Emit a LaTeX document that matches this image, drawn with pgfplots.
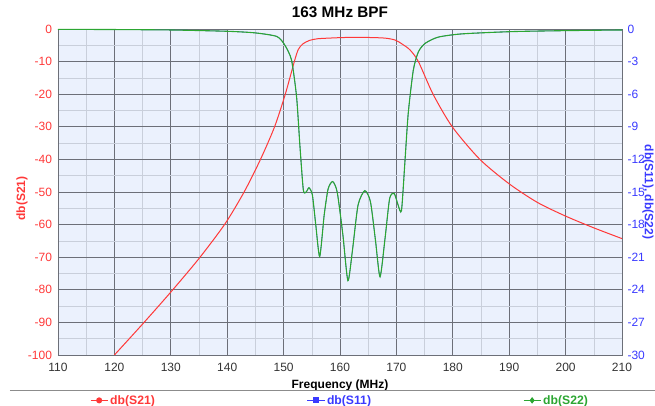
\documentclass[border=0pt]{standalone}
\usepackage{fontspec}
\setmainfont{Liberation Sans}
\usepackage{pgfplots}
\pgfplotsset{compat=1.18}
\usetikzlibrary{calc}

\definecolor{sred}{HTML}{FF3838}
\definecolor{sblue}{HTML}{3A3AFF}
\definecolor{sgreen}{HTML}{2CA632}
\definecolor{plotbg}{HTML}{EBF1FD}
\definecolor{majgrid}{HTML}{6C6F78}
\definecolor{mingrid}{HTML}{C9CFDB}

\pgfplotsset{
  every axis/.append style={
    width=564pt, height=326pt, scale only axis,
    xmin=110, xmax=210,
    font=\fontsize{12}{14}\selectfont,
    /pgf/number format/assume math mode=true,
    tick style={draw=none},
  }
}

\begin{document}
\begin{tikzpicture}
% S21 on the left scale
\begin{axis}[
  axis background/.style={fill=plotbg},
  ymin=-100, ymax=0,
  xtick distance=10, ytick distance=10,
  minor x tick num=1, minor y tick num=1,
  grid=both,
  major grid style={majgrid, line width=0.8pt},
  minor grid style={mingrid, line width=0.6pt},
  axis line style={majgrid, line width=0.8pt},
  yticklabel style={text=sred, xshift=-2.5pt},
  xticklabel style={text=black!80, yshift=-5pt},
  ylabel={\textbf{db(S21)}},
  ylabel style={text=sred, at={(axis description cs:-0.064,0.48)}, anchor=center},
  xlabel={\textbf{Frequency (MHz)}},
  xlabel style={yshift=-1pt},
  title={\textbf{163 MHz BPF}},
  title style={font=\fontsize{15.3}{17}\selectfont, yshift=2pt},
]
\addplot[sred, line width=1pt, smooth, tension=0.45] coordinates {
  (120,-100) (125,-90.5) (130,-80.7) (135,-70.4) (139.6,-59.8)
  (143.0,-50) (145.9,-40) (148.4,-30) (150.3,-20) (151.9,-10)
  (152.6,-6.3) (153.4,-4.6) (154.6,-3.5) (156,-3.0) (158,-2.8)
  (161,-2.6) (165,-2.6) (168,-2.8) (169.8,-3.4) (171,-4.6)
  (172.4,-6.4) (173.9,-10) (176.5,-20) (179.9,-30) (184.8,-40)
  (190,-47.5) (195,-53.2) (200,-57.4) (205,-61.0) (210,-64.3)
};
\end{axis}
% S11 and S22 on the right scale
\begin{axis}[
  axis y line*=right, axis x line=none,
  ymin=-30, ymax=0, ytick distance=3,
  yticklabel style={text=sblue, xshift=2pt},
  axis line style={majgrid, line width=0.8pt},
  ylabel={\textbf{db(S11), db(S22)}},
  ylabel style={text=sblue, at={(axis description cs:1.046,0.5)}, anchor=center, rotate=180},
  legend columns=3,
  legend style={at={(0.5,0)}, anchor=north, yshift=-36pt, draw=none, fill=none,
    font=\fontsize{12.2}{14}\selectfont,
    /tikz/every even column/.append style={column sep=150pt}},
]
\addlegendimage{sred, line width=1pt, mark=*, mark size=2.5pt}
\addlegendentry{\textcolor{sred}{\textbf{db(S21)}}}
\addlegendimage{sblue, line width=1pt, mark=square*, mark size=2.5pt}
\addlegendentry{\textcolor{sblue}{\textbf{db(S11)}}}
\addlegendimage{sgreen, line width=1pt, mark=diamond*, mark size=2.5pt}
\addlegendentry{\textcolor{sgreen}{\textbf{db(S22)}}}
\addplot[sblue, line width=0.6pt, smooth, tension=0.4, forget plot] coordinates {
  (110,-0.03) (120,-0.05) (130,-0.09) (140,-0.21) (145,-0.36)
  (148.8,-0.69) (150.2,-1.47) (151.4,-2.85) (152.3,-6.24) (152.9,-10.8)
  (153.5,-14.82) (154.0,-15.0) (154.5,-14.61) (155.1,-15.27) (155.7,-18)
  (156.4,-20.94) (157.2,-17.1) (157.9,-14.7) (158.7,-14.04) (159.5,-15)
  (160.5,-18.9) (161.4,-23.16) (162.2,-20.4) (163.2,-16.2) (164.4,-14.88)
  (165.4,-15.9) (166.3,-19.5) (167.1,-22.8) (168,-19.2) (168.8,-15.6)
  (169.6,-15.12) (170.3,-16.2) (170.9,-16.71) (171.5,-12.3) (172.1,-7.74)
  (173.0,-3.78) (173.9,-2.1) (175.1,-1.32) (177.4,-0.75) (181.6,-0.45)
  (190.5,-0.24) (200,-0.15) (210,-0.09)
};
\addplot[sgreen, line width=1.1pt, smooth, tension=0.4, forget plot] coordinates {
  (110,-0.03) (120,-0.05) (130,-0.09) (140,-0.21) (145,-0.36)
  (148.8,-0.69) (150.2,-1.47) (151.4,-2.85) (152.3,-6.24) (152.9,-10.8)
  (153.5,-14.82) (154.0,-15.0) (154.5,-14.61) (155.1,-15.27) (155.7,-18)
  (156.4,-20.94) (157.2,-17.1) (157.9,-14.7) (158.7,-14.04) (159.5,-15)
  (160.5,-18.9) (161.4,-23.16) (162.2,-20.4) (163.2,-16.2) (164.4,-14.88)
  (165.4,-15.9) (166.3,-19.5) (167.1,-22.8) (168,-19.2) (168.8,-15.6)
  (169.6,-15.12) (170.3,-16.2) (170.9,-16.71) (171.5,-12.3) (172.1,-7.74)
  (173.0,-3.78) (173.9,-2.1) (175.1,-1.32) (177.4,-0.75) (181.6,-0.45)
  (190.5,-0.24) (200,-0.15) (210,-0.09)
};
\end{axis}
\draw[black!45, line width=0.8pt] ($(current axis.south west)+(-48pt,-35.5pt)$) -- ($(current axis.south east)+(33pt,-35.5pt)$);
\pgfresetboundingbox
\path ($(current axis.south west)+(-58pt,-51pt)$) rectangle ($(current axis.north east)+(33pt,29pt)$);
\end{tikzpicture}
\end{document}
